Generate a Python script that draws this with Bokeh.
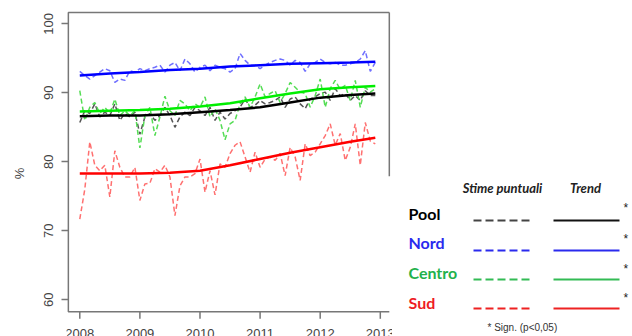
from bokeh.plotting import figure
from bokeh.models import Range1d, FixedTicker, ColumnDataSource
from bokeh.layouts import row
from bokeh.embed import file_html
from bokeh.resources import INLINE
from bokeh.core.properties import value

# ---------------- data ----------------
year_ticks = [2008, 2009, 2010, 2011, 2012, 2013]
year_labels = ["2008", "2009", "2010", "2011", "2012", "2013"]
y_ticks = [60, 70, 80, 90, 100]
n_months = 60
months = [2008 + i / 12 for i in range(n_months)]

pool = [85.7, 87.4, 87.0, 88.4, 86.5, 87.2, 86.7, 88.4, 86.0, 87.0, 86.5, 87.2,
        84.0, 86.5, 87.0, 86.0, 86.7, 87.9, 86.7, 85.0, 86.5, 87.2, 86.7, 87.9,
        87.4, 86.7, 87.9, 86.0, 87.2, 86.2, 87.0, 87.4, 87.9, 89.1, 87.9, 88.2,
        88.9, 88.4, 88.6, 88.9, 89.4, 87.9, 89.1, 89.4, 88.4, 87.7, 89.1, 89.4,
        89.9, 90.1, 88.9, 90.6, 89.6, 89.9, 88.9, 89.6, 88.9, 90.3, 89.6, 89.6]
nord = [93.1, 92.5, 92.0, 92.5, 93.0, 93.5, 93.2, 91.5, 92.0, 91.8, 93.2, 93.0,
        93.5, 93.2, 93.5, 93.7, 94.0, 93.0, 94.0, 94.4, 93.2, 94.9, 94.2, 93.0,
        93.7, 94.0, 93.2, 94.0, 93.7, 93.5, 93.0, 93.5, 95.7, 94.7, 94.0, 94.0,
        93.5, 94.0, 94.4, 94.7, 94.9, 94.7, 94.0, 94.7, 94.4, 93.1, 94.2, 94.4,
        94.9, 94.4, 94.2, 94.4, 94.0, 94.0, 94.2, 94.4, 94.9, 96.1, 93.1, 94.4]
centro = [90.3, 86.0, 87.9, 88.6, 87.0, 87.9, 87.0, 89.1, 86.7, 87.4, 86.7, 87.4,
          82.0, 86.7, 87.9, 83.8, 86.5, 89.5, 87.4, 86.7, 88.9, 88.4, 87.4, 88.4,
          87.9, 89.4, 86.5, 87.7, 86.0, 83.2, 85.5, 86.0, 88.4, 89.4, 87.9, 89.4,
          91.3, 89.4, 89.9, 90.3, 88.6, 89.9, 91.5, 90.8, 90.1, 89.9, 87.9, 89.6,
          92.0, 87.9, 90.6, 91.8, 90.5, 91.1, 88.9, 91.8, 87.9, 90.8, 90.1, 90.6]
sud = [71.7, 76.0, 82.9, 79.5, 78.7, 79.5, 74.9, 81.6, 79.2, 77.8, 77.8, 79.2,
       74.4, 76.8, 76.9, 79.0, 78.5, 79.5, 77.8, 72.2, 76.5, 77.8, 77.8, 78.3,
       80.4, 75.6, 78.7, 75.2, 79.7, 79.2, 81.2, 82.4, 82.9, 80.7, 78.5, 81.4,
       79.2, 80.4, 80.7, 80.2, 81.2, 78.0, 82.1, 80.7, 77.3, 82.6, 80.9, 81.4,
       82.6, 83.8, 85.5, 82.4, 84.1, 80.2, 82.1, 85.5, 79.5, 85.7, 83.0, 82.6]

trend_x = [2008.0, 2008.5, 2009.0, 2009.5, 2010.0, 2010.5, 2011.0, 2011.5,
           2012.0, 2012.5, 2012.917]
pool_trend = [86.6, 86.7, 86.7, 86.9, 87.2, 87.5, 87.9, 88.6, 89.3, 89.7, 89.9]
nord_trend = [92.5, 92.8, 93.0, 93.3, 93.5, 93.8, 94.0, 94.2, 94.3, 94.4, 94.5]
centro_trend = [87.3, 87.4, 87.5, 87.7, 88.0, 88.5, 89.2, 89.9, 90.5, 90.8, 91.0]
sud_trend = [78.3, 78.3, 78.3, 78.4, 78.7, 79.5, 80.4, 81.3, 82.1, 82.9, 83.5]

names = ["Pool", "Nord", "Centro", "Sud"]
points = [pool, nord, centro, sud]
trends = [pool_trend, nord_trend, centro_trend, sud_trend]
header_labels = ["Stime puntuali", "Trend"]
sig_marker = "*"
footnote = "* Sign. (p<0,05)"
y_title = "%"

# ---------------- styles / layout constants ----------------
dash_colors = ["#555555", "#7070ff", "#55dd55", "#ff7070"]
trend_colors = ["#000000", "#0000ff", "#00ee00", "#ff0000"]
name_colors = ["#000000", "#2a2aee", "#22b14c", "#ee1c24"]
leg_dash_colors = ["#444444", "#2a2aee", "#33bb55", "#ee2222"]
leg_solid_colors = ["#111111", "#2a2aee", "#33bb55", "#ee2222"]
axis_grey = "#777777"
text_grey = "#444444"

W_MAIN, W_LEG, H = 392, 240, 336
BORDER_TOP, BORDER_LEFT = 10, 66
# R-style plot region (usr limits) drawn as a box
X_LO, X_HI = 2007.81, 2013.15
Y_LO, Y_HI = 58.26, 101.64
PX_PER_Y = 6.9          # pixels per percentage point
TICK_PX = 7
LABEL_GAP_PX = 17
BOX_RIGHT_VISIBLE_TO = 77.9   # right box side is hidden below this (legend overlay)

# ---------------- main plot ----------------
p = figure(width=W_MAIN, height=H,
           x_range=Range1d(2007.779, 2013.203), y_range=Range1d(54.68, 101.93),
           output_backend="svg", toolbar_location=None, x_axis_location=None,
           min_border_left=BORDER_LEFT, min_border_right=0,
           min_border_top=BORDER_TOP, min_border_bottom=0)
p.grid.visible = False
p.outline_line_color = None
p.background_fill_color = "white"
p.border_fill_color = "white"

# box around the plot region
p.multi_line(xs=[[X_HI, X_LO, X_LO, X_HI], [X_HI, X_HI]],
             ys=[[Y_HI, Y_HI, Y_LO, Y_LO], [Y_HI, BOX_RIGHT_VISIBLE_TO]],
             line_color=axis_grey, line_width=1.5)

for vals, c in zip(points, dash_colors):
    p.line(months, vals, line_color=c, line_width=1.5, line_dash="5 3")
for vals, c in zip(trends, trend_colors):
    p.line(trend_x, vals, line_color=c, line_width=2.5)

# R-style x axis below the box
tick_end = Y_LO - TICK_PX / PX_PER_Y
p.segment(x0=year_ticks, y0=[Y_LO] * len(year_ticks), x1=year_ticks,
          y1=[tick_end] * len(year_ticks), line_color=axis_grey, line_width=1.5)
p.text(x=year_ticks, y=[Y_LO - LABEL_GAP_PX / PX_PER_Y] * len(year_ticks),
       text=year_labels, text_align="center", text_baseline="top",
       text_font=value("Liberation Sans"), text_font_size="13px",
       text_color=text_grey)

ya = p.yaxis[0]
ya.ticker = FixedTicker(ticks=y_ticks)
ya.axis_line_color = None
ya.major_tick_out = 5
ya.major_tick_in = 2
ya.major_tick_line_color = axis_grey
ya.major_tick_line_width = 1.5
ya.minor_tick_line_color = None
ya.major_label_orientation = "vertical"
ya.major_label_standoff = 8
ya.major_label_text_font = "Liberation Sans"
ya.major_label_text_font_size = "13px"
ya.major_label_text_color = text_grey
ya.axis_label = y_title
ya.axis_label_text_font = "Liberation Sans"
ya.axis_label_text_font_size = "13px"
ya.axis_label_text_font_style = "normal"
ya.axis_label_text_color = text_grey
ya.axis_label_standoff = 15

# ---------------- legend panel (data y == page pixel y) ----------------
q = figure(width=W_LEG, height=H, x_range=Range1d(0, W_LEG),
           y_range=Range1d(H, BORDER_TOP),
           output_backend="svg", toolbar_location=None,
           min_border_left=0, min_border_right=0,
           min_border_top=BORDER_TOP, min_border_bottom=0,
           x_axis_type=None, y_axis_type=None)
q.grid.visible = False
q.outline_line_color = None

row_text_y = [213, 242, 272, 302]
row_line_y = [220, 250, 279, 308]
row_star_y = [207, 238, 268, 297]

q.text(x=[110, 193], y=[187, 187], text=header_labels,
       text_font=value("Lato"), text_font_size="13px", text_font_style="bold italic",
       text_color="#222222", text_align="center", text_baseline="middle")

src = ColumnDataSource(dict(x=[16] * 4, y=row_text_y, t=names, c=name_colors))
q.text(x="x", y="y", text="t", text_color="c", source=src,
       text_font=value("Lato"), text_font_size="16px", text_font_style="bold",
       text_align="left", text_baseline="middle")

q.segment(x0=[81] * 4, y0=row_line_y, x1=[140] * 4, y1=row_line_y,
          line_color=leg_dash_colors, line_width=2, line_dash="8 4")
q.segment(x0=[161] * 4, y0=row_line_y, x1=[227] * 4, y1=row_line_y,
          line_color=leg_solid_colors, line_width=2)
q.text(x=[231] * 4, y=row_star_y, text=[sig_marker] * 4,
       text_font=value("Liberation Sans"), text_font_size="12px",
       text_color="#222222", text_align="left", text_baseline="middle")
q.text(x=[95], y=[327], text=[footnote],
       text_font=value("Liberation Sans"), text_font_size="10px",
       text_color="#333333", text_align="left", text_baseline="middle")

layout = row(p, q)
open("out.html", "w").write(file_html(layout, INLINE))
